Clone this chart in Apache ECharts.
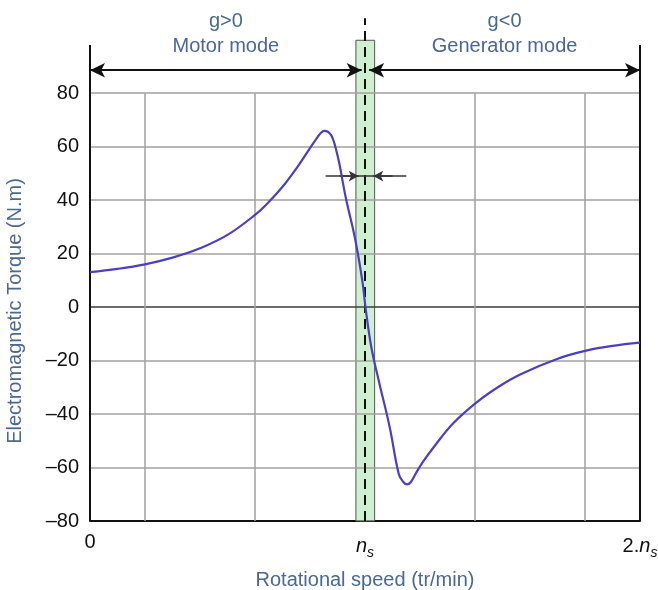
<!DOCTYPE html>
<html>
<head>
<meta charset="utf-8">
<script src="https://cdn.jsdelivr.net/npm/echarts@6/dist/echarts.min.js"></script>
<style>
html, body { margin: 0; background: #fff; }
#chart { width: 658px; height: 590px; }
</style>
</head>
<body>
<div id="chart"></div>
<script>
// rotational speed (multiples of ns) and torque (N.m)
var speed = [0, 0.1, 0.2, 0.3, 0.4, 0.5, 0.6, 0.65, 0.7, 0.75, 0.8, 0.825, 0.84, 0.852, 0.865, 0.877, 0.887, 0.897, 0.907, 0.93, 0.963, 0.99, 1.003, 1.023, 1.05, 1.09, 1.123, 1.14, 1.153, 1.166, 1.183, 1.21, 1.249, 1.32, 1.406, 1.49, 1.568, 1.701, 1.804, 1.9, 2.0];
var torque = [13.1, 14.3, 16.0, 18.5, 22.0, 27.0, 34.5, 39.3, 45, 51.8, 59.5, 63.2, 65.2, 65.9, 65.6, 64.3, 61.8, 58, 53.5, 41, 26, 10, -1, -15, -27.5, -45, -62.5, -65.5, -66.3, -65.5, -62.5, -58, -52.5, -43.5, -35.6, -29.5, -25, -19.3, -16.3, -14.5, -13.3];

var yGridValues = [-60, -40, -20, 20, 40, 60, 80];
var xGridValues = [0.2, 0.6, 1.4, 1.8];
var xTickLabels = { 0: '0', 1: '{i|n}{s|s}', 2: '2.{i|n}{s|s}' };
var slipBand = [0.967, 1.035];   // green band around ns
var bandTop = 99.8;
var syncSpeed = 1;
var syncLineTop = 108;
var frameTop = 98;
var modeArrowY = 88.6;
var modeArrowTips = [0.988, 1.015];
var modeLabels = ['g>0\nMotor mode', 'g<0\nGenerator mode'];
var slipArrowY = 49;
var slipArrowSpan = [0.857, 1.15];
var slipArrowTips = [0.977, 1.03];
var yMin = -80, yMax = 110, xMax = 2;

var curve = speed.map(function (s, i) { return [s, torque[i]]; });

var grey = '#a0a0a0';
var labelBlue = '#4a6894';

var gridLines = yGridValues.map(function (v) {
    return { yAxis: v };
});
gridLines.push({ yAxis: 0, lineStyle: { color: '#3a3a3a', width: 1.6, type: 'solid' } });
xGridValues.forEach(function (v) {
    gridLines.push([{ coord: [v, yMin] }, { coord: [v, 80] }]);
});

var modeLabel = function (text) {
    return {
        show: true, position: 'middle', formatter: text, distance: 11, color: labelBlue,
        fontSize: 20, lineHeight: 25, fontFamily: 'Liberation Sans', align: 'center'
    };
};

var chart = echarts.init(document.getElementById('chart'));
chart.setOption({
    animation: false,
    grid: { left: 90, right: 18, top: 13, bottom: 69, outerBoundsMode: 'none' },
    xAxis: {
        type: 'value',
        min: 0,
        max: xMax,
        interval: 1,
        name: 'Rotational speed (tr/min)',
        nameLocation: 'middle',
        nameGap: 49,
        nameTextStyle: { color: labelBlue, fontSize: 20, fontFamily: 'Liberation Sans' },
        axisLine: { onZero: false, lineStyle: { color: '#111', width: 2 } },
        axisTick: { show: false },
        splitLine: { show: false },
        axisLabel: {
            margin: 11,
            color: '#111',
            fontSize: 20,
            fontFamily: 'Liberation Sans',
            formatter: function (v) { return xTickLabels[v] || ''; },
            rich: {
                i: { fontStyle: 'italic', fontSize: 20, fontFamily: 'Liberation Sans', color: '#111' },
                s: { fontStyle: 'italic', fontSize: 14, fontFamily: 'Liberation Sans', color: '#111', padding: [14, 0, 0, 0] }
            }
        }
    },
    yAxis: {
        type: 'value',
        min: yMin,
        max: yMax,
        interval: 20,
        axisLine: { show: false },
        axisTick: { show: false },
        splitLine: { show: false },
        axisLabel: {
            margin: 11,
            color: '#111',
            fontSize: 20,
            fontFamily: 'Liberation Sans',
            formatter: function (v) {
                if (v > 80) return '';
                return v < 0 ? '\u2013' + Math.abs(v) : String(v);
            }
        }
    },
    graphic: [{
        type: 'text',
        x: 15,
        y: 311,
        rotation: Math.PI / 2,
        style: {
            text: 'Electromagnetic Torque (N.m)',
            fill: labelBlue,
            fontSize: 20,
            fontFamily: 'Liberation Sans',
            textAlign: 'center',
            textVerticalAlign: 'middle'
        }
    }],
    series: [
        {
            // grid
            type: 'line',
            data: [],
            silent: true,
            markLine: {
                silent: true,
                symbol: ['none', 'none'],
                label: { show: false },
                lineStyle: { color: grey, width: 1.5, type: 'solid' },
                data: gridLines
            }
        },
        {
            // slip band around synchronous speed
            type: 'line',
            data: [],
            silent: true,
            markArea: {
                silent: true,
                itemStyle: { color: 'rgba(190,235,190,0.75)', borderColor: '#555', borderWidth: 1 },
                data: [[{ coord: [slipBand[0], yMin] }, { coord: [slipBand[1], bandTop] }]]
            }
        },
        {
            name: 'Torque',
            type: 'line',
            data: curve,
            showSymbol: false,
            smooth: 0.4,
            lineStyle: { color: '#4a3fc4', width: 2.2 },
            z: 5
        },
        {
            // frame, synchronous line and arrows
            type: 'line',
            data: [],
            silent: true,
            z: 6,
            markLine: {
                silent: true,
                symbol: ['none', 'none'],
                label: { show: false },
                lineStyle: { color: '#111', width: 2, type: 'solid' },
                data: [
                    [{ coord: [0, yMin] }, { coord: [0, frameTop] }],
                    [{ coord: [xMax, yMin] }, { coord: [xMax, frameTop] }],
                    [{ coord: [syncSpeed, yMin], lineStyle: { type: [10, 6], width: 2, color: '#111' } }, { coord: [syncSpeed, syncLineTop] }],
                    [
                        { coord: [0, modeArrowY], symbol: 'arrow', symbolSize: [11, 15] },
                        { coord: [modeArrowTips[0], modeArrowY], symbol: 'arrow', symbolSize: [11, 15], label: modeLabel(modeLabels[0]) }
                    ],
                    [
                        { coord: [modeArrowTips[1], modeArrowY], symbol: 'arrow', symbolSize: [11, 15] },
                        { coord: [xMax, modeArrowY], symbol: 'arrow', symbolSize: [11, 15], label: modeLabel(modeLabels[1]) }
                    ],
                    [
                        { coord: [slipArrowSpan[0], slipArrowY], lineStyle: { color: '#333', width: 1.5 } },
                        { coord: [slipArrowSpan[1], slipArrowY] }
                    ],
                    [
                        { coord: [slipArrowSpan[0] + 0.05, slipArrowY], lineStyle: { color: '#333', width: 1.5 } },
                        { coord: [slipArrowTips[0], slipArrowY], symbol: 'arrow', symbolSize: [8, 10] }
                    ],
                    [
                        { coord: [slipArrowSpan[1] - 0.05, slipArrowY], lineStyle: { color: '#333', width: 1.5 } },
                        { coord: [slipArrowTips[1], slipArrowY], symbol: 'arrow', symbolSize: [8, 10] }
                    ]
                ]
            }
        }
    ]
});
</script>
</body>
</html>
